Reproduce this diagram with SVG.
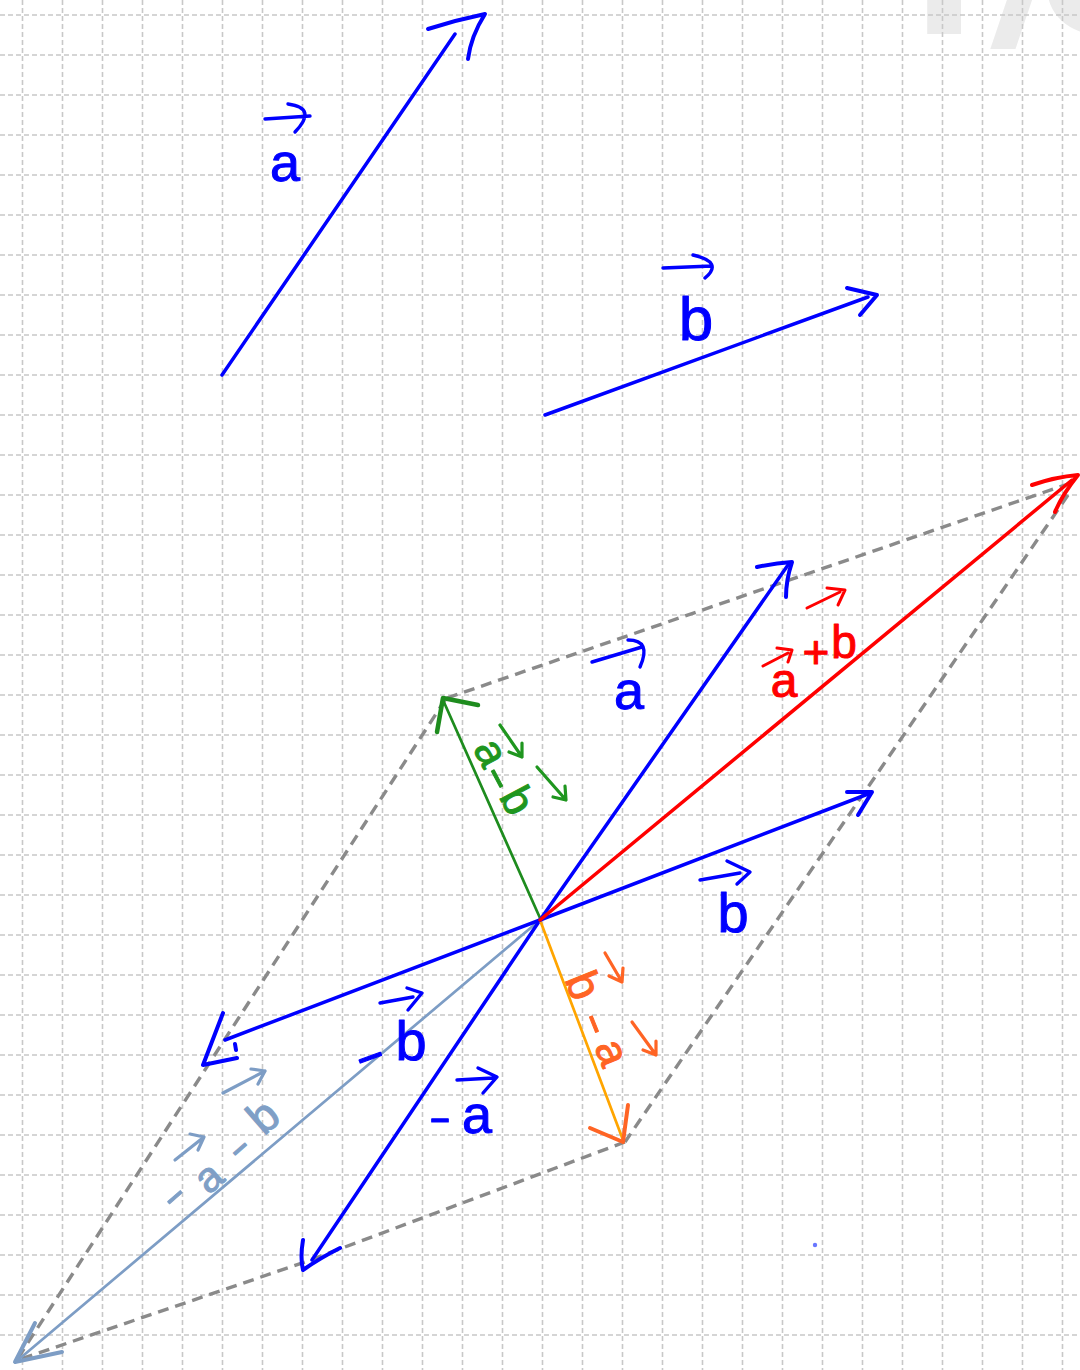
<svg xmlns="http://www.w3.org/2000/svg" width="1080" height="1370" viewBox="0 0 1080 1370">
<style>
.bg{fill:#ffffff}
.grid{fill:none;stroke:#c8c8c8;stroke-width:1.6;stroke-dasharray:5 3}
.wm{font-family:Roboto,"Open Sans",sans-serif;font-weight:bold;font-size:240px;fill:#ebebeb}
.dash{fill:none;stroke:#8a8a8a;stroke-width:3.4;stroke-dasharray:11 7}
.vec{fill:none;stroke-linecap:round;stroke-linejoin:round;stroke-width:3.5}
.head{fill:none;stroke-linecap:round;stroke-linejoin:round;stroke-width:4}
.thin{stroke-width:2.7}
.blue{stroke:#0000ff}
.red{stroke:#ff0000}
.green{stroke:#1e8c1e}
.orange{stroke:#ffa500}
.orhead{stroke:#ff6424}
.steel{stroke:#7d9dc5}
.lbl{font-family:"Liberation Sans",Arial,sans-serif;stroke-width:1;stroke-linejoin:round}
.tb{fill:#0000ff;stroke:#0000ff}
.tr{fill:#ff0000;stroke:#ff0000}
.tg{fill:#1f961f;stroke:#1f961f}
.to{fill:#ff6424;stroke:#ff6424}
.ts{fill:#7f9fc6;stroke:#7f9fc6}
.arr{fill:none;stroke-linecap:round;stroke-linejoin:round;stroke-width:3.4}
.lg{stroke:#1f961f}
</style>
<rect class="bg" x="0" y="0" width="1080" height="1370"/>
<text class="wm" y="34"><tspan x="867">1</tspan><tspan x="992">/</tspan><tspan x="1040">3</tspan></text>
<g id="grid">
<path class="grid" d="M22.5,0V1370M62.5,0V1370M102.5,0V1370M142.5,0V1370M182.5,0V1370M222.5,0V1370M262.5,0V1370M302.5,0V1370M342.5,0V1370M382.5,0V1370M422.5,0V1370M462.5,0V1370M502.5,0V1370M542.5,0V1370M582.5,0V1370M622.5,0V1370M662.5,0V1370M702.5,0V1370M742.5,0V1370M782.5,0V1370M822.5,0V1370M862.5,0V1370M902.5,0V1370M942.5,0V1370M982.5,0V1370M1022.5,0V1370M1062.5,0V1370"/>
<path class="grid" d="M0,15H1080M0,55H1080M0,95H1080M0,135H1080M0,175H1080M0,215H1080M0,255H1080M0,295H1080M0,335H1080M0,375H1080M0,415H1080M0,455H1080M0,495H1080M0,535H1080M0,575H1080M0,615H1080M0,655H1080M0,695H1080M0,735H1080M0,775H1080M0,815H1080M0,855H1080M0,895H1080M0,935H1080M0,975H1080M0,1015H1080M0,1055H1080M0,1095H1080M0,1135H1080M0,1175H1080M0,1215H1080M0,1255H1080M0,1295H1080M0,1335H1080"/>
</g>
<g id="parallelogram">
<path class="dash" d="M447,698 L1068,484"/>
<path class="dash" d="M1068,495 L625,1142"/>
<path class="dash" d="M625,1142 L305,1262 L18,1360"/>
<path class="dash" d="M18,1358 L445,700"/>
</g>
<g id="connectors">
<g id="vec-a-top"><path class="vec blue" d="M222,375 L455,34"/><path class="head blue" d="M428,29 Q456,20 485,14 Q471,36 468,59"/></g>
<g id="vec-b-top"><path class="vec blue" d="M545,415 L868,297"/><path class="head blue" d="M847,288 L877,295 L860,315"/></g>
<g id="vec-steel"><path class="vec thin steel" d="M540,920 L18,1360"/><path class="head steel" d="M35,1323 L15,1362 L62,1352"/></g>
<g id="vec-minus-b"><path class="vec blue" d="M540,920 L225,1040"/><path class="head blue" d="M223,1013 L203,1065 L237,1058 M235,1044 L236,1050"/></g>
<g id="vec-minus-a"><path class="vec blue" d="M540,920 L312,1260"/><path class="head blue" d="M303,1240 Q300,1258 303,1270 Q320,1258 340,1248"/></g>
<g id="vec-b-a"><path class="vec thin orange" d="M540,920 L623,1140"/><path class="head orhead" d="M590,1128 L623,1142 L628,1105"/></g>
<g id="vec-a-b"><path class="vec thin green" d="M540,918 L443,700"/><path class="head green" style="stroke-width:4.5" d="M437,732 L443,698 L478,705"/></g>
<g id="vec-a"><path class="vec blue" d="M540,920 L788,565"/><path class="head blue" d="M757,567 Q775,563 792,562 Q786,580 786,597"/></g>
<g id="vec-b"><path class="vec blue" d="M540,920 L868,794"/><path class="head blue" d="M847,792 L872,792 L858,815"/></g>
<g id="vec-sum"><path class="vec red" d="M540,920 L1072,480"/><path class="head red" d="M1032,485 Q1055,477 1078,475 Q1062,495 1055,512"/></g>
</g>
<g id="label-a-top">
<path class="arr blue" d="M265,119 L310,116 M288,104 Q318,108 295,132"/>
<text class="lbl tb" x="285" y="181" font-size="54" text-anchor="middle">a</text>
</g>
<g id="label-b-top">
<path class="arr blue" d="M663,268 L712,266 M693,255 Q724,262 705,278"/>
<text class="lbl tb" x="696" y="340" font-size="62" text-anchor="middle">b</text>
</g>
<g id="label-a">
<path class="arr blue" d="M592,662 L642,647 M628,640 Q652,640 640,667"/>
<text class="lbl tb" x="629" y="709" font-size="54" text-anchor="middle">a</text>
</g>
<g id="label-b">
<path class="arr blue" d="M700,880 L740,873 M727,861 L750,872 L737,884"/>
<text class="lbl tb" x="733" y="932" font-size="56" text-anchor="middle">b</text>
</g>
<g id="label-sum">
<path class="arr red" style="stroke-width:3" d="M763,666 L788,653 M777,648 L792,650 L788,662"/>
<text class="lbl tr" x="784" y="697" font-size="48" text-anchor="middle">a</text>
<text class="lbl tr" x="816" y="668" font-size="46" text-anchor="middle">+</text>
<text class="lbl tr" x="844" y="658" font-size="46" text-anchor="middle">b</text>
<path class="arr red" style="stroke-width:3" d="M807,608 L840,592 M827,588 L845,590 L838,605"/>
</g>
<g id="label-a-b">
<text class="lbl tg" transform="translate(492,752) rotate(62)" font-size="44" text-anchor="middle" dominant-baseline="central">a</text>
<text class="lbl tg" transform="translate(500,777) rotate(62)" font-size="40" text-anchor="middle" dominant-baseline="central" textLength="24" lengthAdjust="spacingAndGlyphs">-</text>
<text class="lbl tg" transform="translate(518,800) rotate(62)" font-size="44" text-anchor="middle" dominant-baseline="central">b</text>
<path class="arr lg" style="stroke-width:3.2" d="M500,725 L522,757 M509,752 L522,757 L522,743"/>
<path class="arr lg" style="stroke-width:3.2" d="M537,767 L566,800 M553,797 L566,800 L565,786"/>
</g>
<g id="label-b-a">
<text class="lbl to" transform="translate(584,985) rotate(68)" font-size="46" text-anchor="middle" dominant-baseline="central">b</text>
<text class="lbl to" transform="translate(597,1023) rotate(68)" font-size="40" text-anchor="middle" dominant-baseline="central" textLength="22" lengthAdjust="spacingAndGlyphs">-</text>
<text class="lbl to" transform="translate(613,1052) rotate(68)" font-size="44" text-anchor="middle" dominant-baseline="central">a</text>
<path class="arr orhead" style="stroke-width:3.2" d="M605,953 L622,982 M609,976 L622,982 L623,968"/>
<path class="arr orhead" style="stroke-width:3.2" d="M632,1022 L656,1055 M643,1050 L656,1055 L656,1041"/>
</g>
<g id="label-minus-b">
<text class="lbl tb" transform="translate(369,1054) rotate(-20)" font-size="44" text-anchor="middle" dominant-baseline="central" textLength="30" lengthAdjust="spacingAndGlyphs">-</text>
<text class="lbl tb" x="411" y="1060" font-size="56" text-anchor="middle">b</text>
<path class="arr blue" d="M380,1003 L413,997 M407,988 L422,993 L408,1010"/>
</g>
<g id="label-minus-a">
<text class="lbl tb" transform="translate(440,1117)" font-size="40" text-anchor="middle" dominant-baseline="central" textLength="22" lengthAdjust="spacingAndGlyphs">-</text>
<text class="lbl tb" x="477" y="1133" font-size="54" text-anchor="middle">a</text>
<path class="arr blue" d="M457,1080 L493,1078 M478,1068 L497,1077 L483,1093"/>
</g>
<g id="label-minus-a-b">
<text class="lbl ts" transform="translate(173,1195) rotate(-41)" font-size="38" text-anchor="middle" dominant-baseline="central" textLength="22" lengthAdjust="spacingAndGlyphs">-</text>
<text class="lbl ts" transform="translate(208,1177) rotate(-41)" font-size="42" text-anchor="middle" dominant-baseline="central">a</text>
<text class="lbl ts" transform="translate(238,1147) rotate(-41)" font-size="38" text-anchor="middle" dominant-baseline="central" textLength="20" lengthAdjust="spacingAndGlyphs">-</text>
<text class="lbl ts" transform="translate(263,1116) rotate(-41)" font-size="46" text-anchor="middle" dominant-baseline="central">b</text>
<path class="arr steel" style="stroke-width:3.2" d="M175,1160 L204,1137 M198,1150 L204,1137 L190,1134"/>
<path class="arr steel" style="stroke-width:3.2" d="M223,1093 L265,1071 M258,1084 L265,1071 L251,1069"/>
</g>
<circle cx="815" cy="1245" r="2.2" fill="#4455ff" opacity="0.8"/>
</svg>
